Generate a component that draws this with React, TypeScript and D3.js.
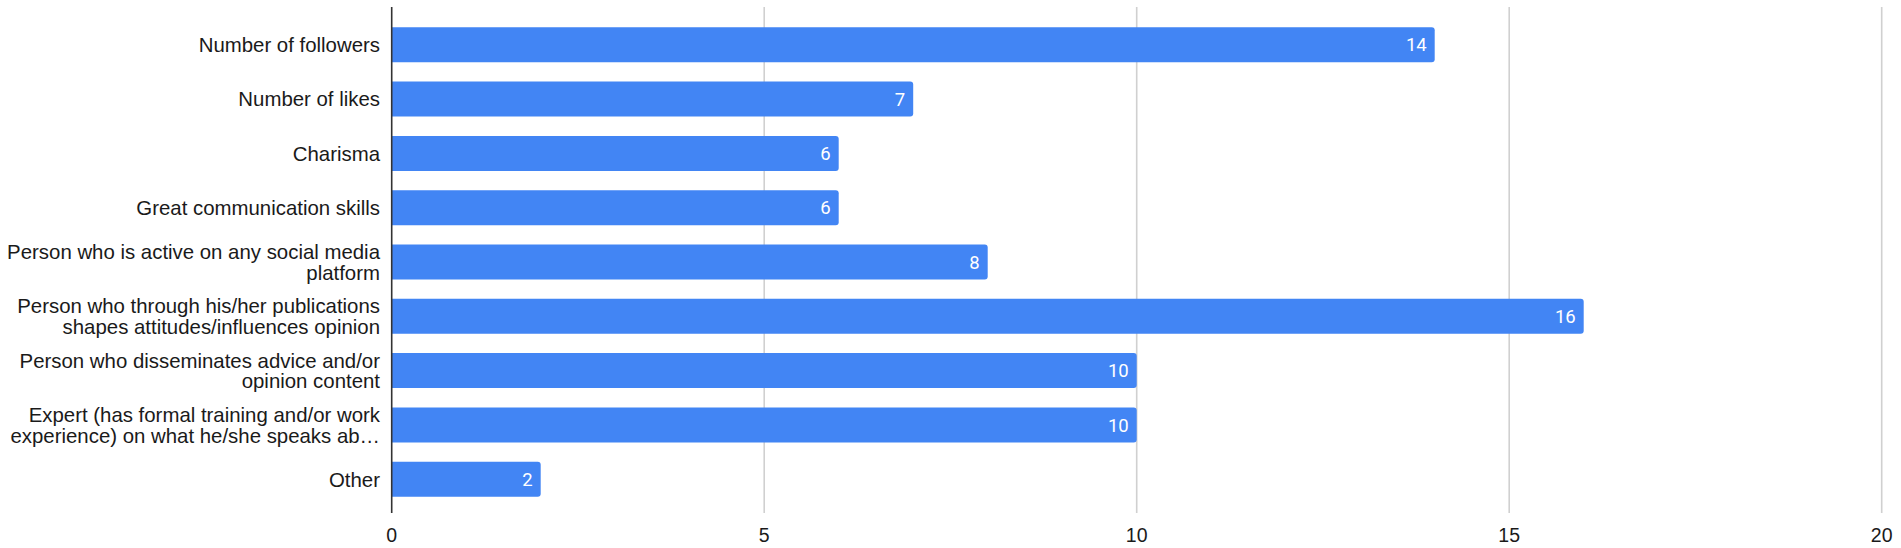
import React, { useEffect, useRef } from 'react'
import * as d3 from 'd3'

// category labels, already broken into lines the way the chart shows them
const categories: string[][] = [
  ['Number of followers'],
  ['Number of likes'],
  ['Charisma'],
  ['Great communication skills'],
  ['Person who is active on any social media', 'platform'],
  ['Person who through his/her publications', 'shapes attitudes/influences opinion'],
  ['Person who disseminates advice and/or', 'opinion content'],
  ['Expert (has formal training and/or work', 'experience) on what he/she speaks ab…'],
  ['Other']
]
const counts: number[] = [14, 7, 6, 6, 8, 16, 10, 10, 2]
const xTicks: number[] = [0, 5, 10, 15, 20]

const WIDTH = 1901
const HEIGHT = 548

export default function App () {
  const ref = useRef<SVGSVGElement>(null)

  useEffect(() => {
    const svg = d3.select(ref.current)
    svg.selectAll('*').remove()

    const left = 391.7
    const right = 1881.7
    const top = 7
    const bottom = 513

    const x = d3.scaleLinear().domain([0, 20]).range([left, right])
    const y = d3.scaleBand<number>()
      .domain(d3.range(categories.length))
      .range([17.65, 506.35])
      .paddingInner(0.355)
      .paddingOuter(0.1775)

    // vertical gridlines
    svg.append('g')
      .selectAll('line')
      .data(xTicks.filter(t => t !== 0))
      .enter()
      .append('line')
      .attr('x1', d => x(d))
      .attr('x2', d => x(d))
      .attr('y1', top)
      .attr('y2', bottom)
      .attr('stroke', '#d0d0d0')
      .attr('stroke-width', 1.6)

    // tick labels
    svg.append('g')
      .selectAll('text')
      .data(xTicks)
      .enter()
      .append('text')
      .attr('x', d => x(d))
      .attr('y', 542)
      .attr('text-anchor', 'middle')
      .attr('font-family', 'Liberation Sans, Arial, sans-serif')
      .attr('font-size', 19.5)
      .attr('fill', '#1a1a1a')
      .text(d => d)

    // bars, rounded on the right end only
    const r = 3
    const bars = svg.append('g')
    bars.selectAll('path')
      .data(counts)
      .enter()
      .append('path')
      .attr('fill', '#4285f4')
      .attr('d', (d, i) => {
        const x0 = x(0)
        const x1 = x(d)
        const y0 = y(i) as number
        const h = y.bandwidth()
        return `M${x0},${y0}H${x1 - r}Q${x1},${y0} ${x1},${y0 + r}V${y0 + h - r}Q${x1},${y0 + h} ${x1 - r},${y0 + h}H${x0}Z`
      })

    // value labels inside bar ends
    bars.selectAll('text')
      .data(counts)
      .enter()
      .append('text')
      .attr('x', d => x(d) - 8)
      .attr('y', (d, i) => (y(i) as number) + y.bandwidth() / 2)
      .attr('dy', '0.36em')
      .attr('text-anchor', 'end')
      .attr('font-family', 'Roboto, sans-serif')
      .attr('font-size', 18.5)
      .attr('fill', '#fff')
      .text(d => d)

    // category labels
    const lineH = 20.7
    const labels = svg.append('g')
      .selectAll('text')
      .data(categories)
      .enter()
      .append('text')
      .attr('text-anchor', 'end')
      .attr('font-family', 'Liberation Sans, Arial, sans-serif')
      .attr('font-size', 20.4)
      .attr('fill', '#1a1a1a')
    labels.each(function (lines, i) {
      const cy = (y(i) as number) + y.bandwidth() / 2
      const startY = cy - (lines.length - 1) * lineH / 2
      d3.select(this).selectAll('tspan')
        .data(lines)
        .enter()
        .append('tspan')
        .attr('x', 380)
        .attr('y', (l, j) => startY + j * lineH)
        .attr('dy', '0.36em')
        .text(l => l)
    })

    // baseline axis
    svg.append('line')
      .attr('x1', left)
      .attr('x2', left)
      .attr('y1', top)
      .attr('y2', bottom)
      .attr('stroke', '#333')
      .attr('stroke-width', 1.6)
  }, [])

  return (
    <svg
      ref={ref}
      width={WIDTH}
      height={HEIGHT}
      style={{ position: 'absolute', left: 0, top: 0, background: '#fff' }}
    />
  )
}
